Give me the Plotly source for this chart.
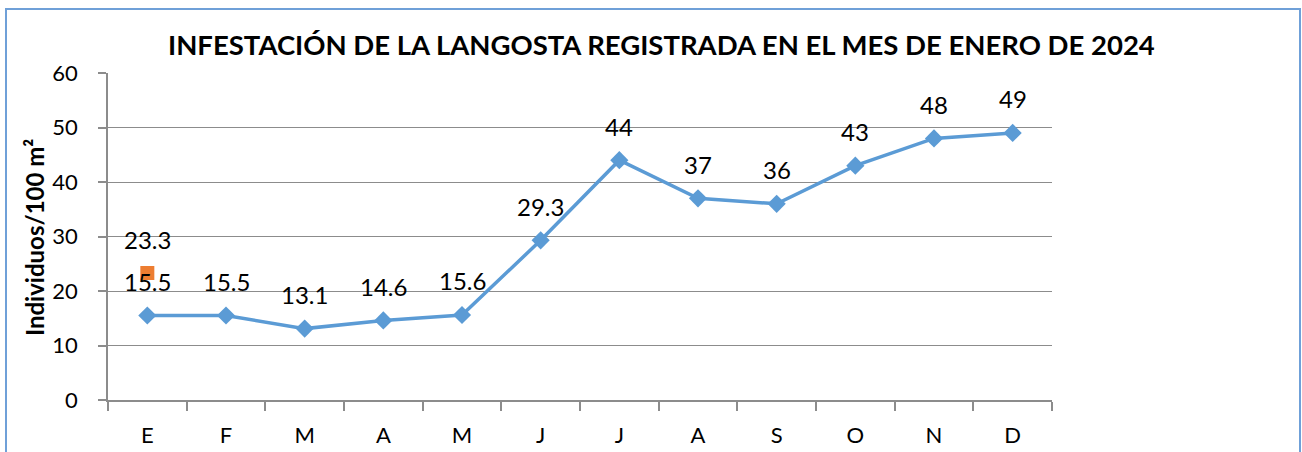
import plotly.graph_objects as go

months = ["E", "F", "M", "A", "M", "J", "J", "A", "S", "O", "N", "D"]
infestacion = [15.5, 15.5, 13.1, 14.6, 15.6, 29.3, 44, 37, 36, 43, 48, 49]
extra_month_index = [0]
extra_values = [23.3]
y_ticks = [0, 10, 20, 30, 40, 50, 60]

title_text = "INFESTACIÓN DE LA LANGOSTA REGISTRADA EN EL MES DE ENERO DE 2024"
y_title = "Individuos/100 m²"

FONT = "Lato, Carlito, Calibri, sans-serif"
BLUE = "#5B9BD5"
ORANGE = "#ED7D31"
GRID = "#8C8C8C"

x_idx = list(range(len(months)))

fig = go.Figure()
fig.add_trace(go.Scatter(
    x=x_idx, y=infestacion, mode="lines+markers",
    line=dict(color=BLUE, width=3.5),
    marker=dict(symbol="diamond", size=14, color=BLUE),
    showlegend=False, hoverinfo="skip",
))
fig.add_trace(go.Scatter(
    x=extra_month_index, y=extra_values, mode="markers",
    marker=dict(symbol="square", size=14, color=ORANGE),
    showlegend=False, hoverinfo="skip",
))

annotations = []
for xi, v in zip(x_idx, infestacion):
    annotations.append(dict(x=xi, y=v, text=f"{v:g}", showarrow=False, yshift=34,
                            font=dict(family=FONT, size=24, color="#000")))
for xi, v in zip(extra_month_index, extra_values):
    annotations.append(dict(x=xi, y=v, text=f"{v:g}", showarrow=False, yshift=34,
                            font=dict(family=FONT, size=24, color="#000")))

W, H = 1302, 452
L, R, T, B = 108, 1052, 73, 400
pw, ph = R - L, B - T

annotations.append(dict(xref="paper", yref="paper", x=(34 - L) / pw, y=(B - 238) / ph, text=y_title,
                        textangle=-90, showarrow=False, xanchor="center", yanchor="middle",
                        font=dict(family=FONT, size=24, color="#000", weight="bold")))

fig.update_layout(
    width=W, height=H,
    margin=dict(l=L, r=W - R, t=T, b=H - B, autoexpand=False),
    paper_bgcolor="white", plot_bgcolor="white",
    title=dict(text=title_text, x=0.508, xanchor="center", y=1 - 45 / H, yanchor="middle",
               font=dict(family=FONT, size=27.5, color="#000", weight="bold")),
    annotations=annotations,
    shapes=[dict(type="rect", xref="paper", yref="paper",
                 x0=(6 - L) / pw, x1=(1300 - L) / pw,
                 y0=-0.6, y1=(B - 9) / ph,
                 line=dict(color="#6FA0D8", width=2), layer="below")],
    font=dict(family=FONT, color="#000"),
)
fig.update_xaxes(
    automargin=False,
    range=[-0.5, len(months) - 0.5],
    tickmode="array", tickvals=x_idx, ticktext=months,
    ticks="outside", ticklen=15, tickcolor="rgba(0,0,0,0)",
    tickfont=dict(family=FONT, size=22, color="#000"),
    showgrid=False, zeroline=False,
    showline=True, linecolor=GRID, linewidth=1.5,
    minor=dict(tickmode="linear", tick0=-0.5, dtick=1, ticks="outside", ticklen=9,
               tickcolor=GRID, tickwidth=1.5, showgrid=False),
)
fig.update_yaxes(
    automargin=False,
    range=[0, 60], tickmode="array", tickvals=y_ticks,
    ticks="outside", ticklen=8, tickcolor=GRID, tickwidth=1.5,
    ticklabelstandoff=16,
    tickfont=dict(family=FONT, size=22, color="#000"),
    showgrid=True, gridcolor=GRID, gridwidth=1.2, zeroline=False,
    showline=True, linecolor=GRID, linewidth=1.5,
)

fig.write_html("out.html", config={"displayModeBar": False},
               post_script="document.body.style.margin='0';document.body.style.overflow='hidden';")
